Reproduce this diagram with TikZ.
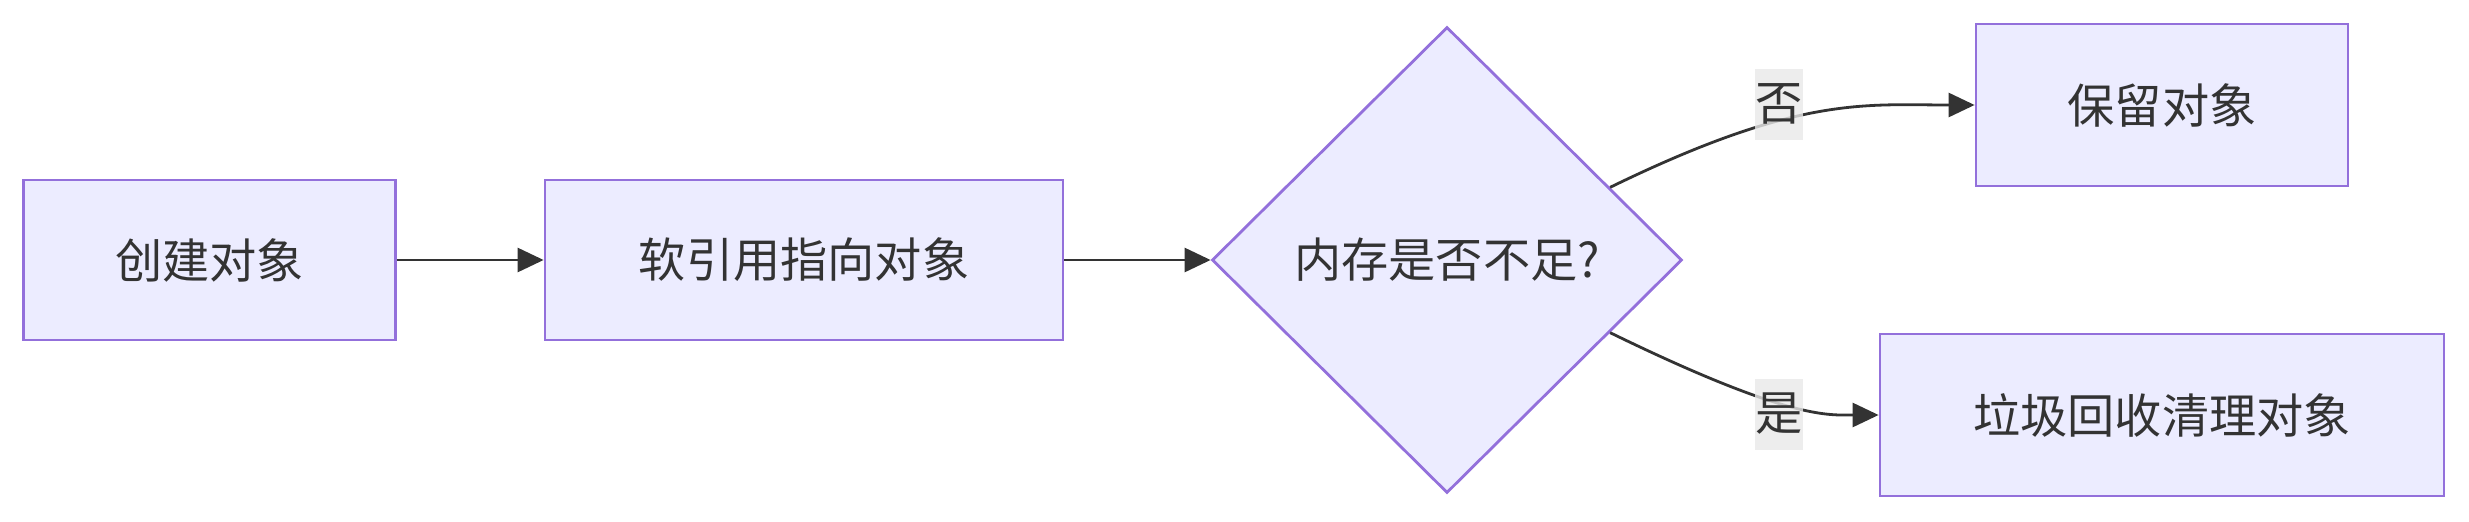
\documentclass[tikz,border=0pt]{standalone}
\usepackage{fontspec}
\setmainfont{Noto Sans CJK SC}
\usetikzlibrary{arrows.meta, calc, shapes.geometric}

\begin{document}
\begin{tikzpicture}[x=0.5pt, y=0.5pt,
    box/.style={draw=borderColour, fill=fillColour, line width=1.4pt, minimum height=80pt,
        inner sep=0pt, text=textColour, font=\fontsize{23.6}{28}\selectfont},
    decision/.style={diamond, draw=borderColour, fill=fillColour, line width=1.4pt,
        minimum width=235pt, minimum height=233pt, inner sep=0pt, text=textColour,
        font=\fontsize{23.6}{28}\selectfont},
    edgeLabel/.style={fill=labelColour, fill opacity=0.8, text opacity=1, text=textColour,
        minimum width=24pt, minimum height=35.5pt, inner sep=0pt, font=\fontsize{23.6}{28}\selectfont},
    link/.style={draw=lineColour, line width=1.4pt, -{Triangle[length=13pt, width=12pt]}}]
    % Define colours
    \definecolor{borderColour}{HTML}{9370DB}
    \definecolor{fillColour}{HTML}{ECECFF}
    \definecolor{textColour}{HTML}{333333}
    \definecolor{lineColour}{HTML}{333333}
    \definecolor{labelColour}{HTML}{E8E8E8}

    % Fix the picture size
    \useasboundingbox (0,0) rectangle (2469,521);

    % Draw the nodes
    \node[box, minimum width=186pt] (create) at (209.5,261) {创建对象};
    \node[box, minimum width=259pt] (softRef) at (804,261) {软引用指向对象};
    \node[decision] (memCheck) at (1447,261) {内存是否不足?};
    \node[box, minimum width=186pt, minimum height=81pt] (keep) at (2162,416) {保留对象};
    \node[box, minimum width=282pt, minimum height=81pt] (collect) at (2162,106) {垃圾回收清理对象};

    % Points where the branches leave the diamond
    \coordinate (upOut) at ($(memCheck.north)!0.69!(memCheck.east)$);
    \coordinate (downOut) at ($(memCheck.south)!0.69!(memCheck.east)$);

    % Draw the connectors
    \draw[link] (create) -- (softRef);
    \draw[link] (softRef) -- (memCheck);
    \draw[link] (upOut) .. controls +(26:210) and +(-110,0) .. (keep.west);
    \draw[link] (downOut) .. controls +(-26:200) and +(-50,0) .. (collect.west);

    % Label the branches
    \node[edgeLabel] (noLabel) at (1779,417) {否};
    \node[edgeLabel] (yesLabel) at (1779,107) {是};

\end{tikzpicture}
\end{document}
